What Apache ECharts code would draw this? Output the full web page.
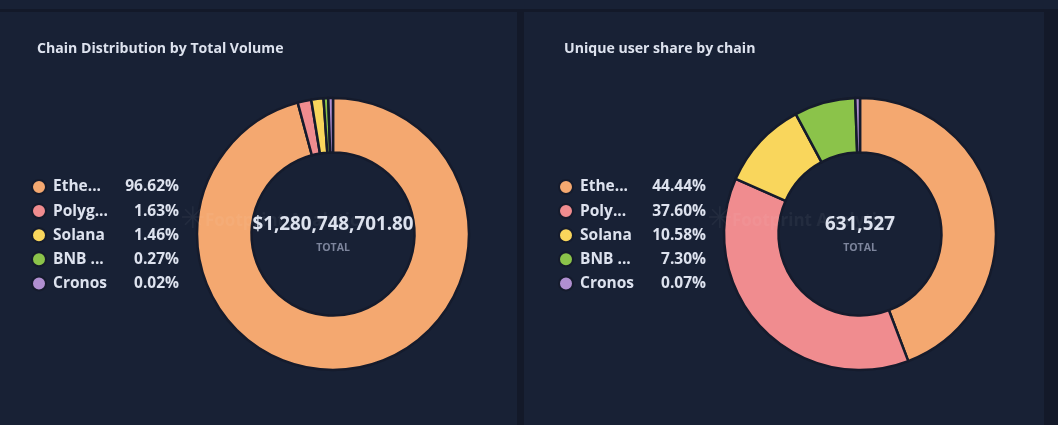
<!DOCTYPE html>
<html>
<head>
<meta charset="utf-8">
<style>
  html, body { margin: 0; padding: 0; width: 1058px; height: 425px; overflow: hidden; background: #131929; }
  .strip { position: absolute; left: 0; top: 0; width: 1058px; height: 9px; background: #182135; }
  .card { position: absolute; top: 12px; height: 413px; background: #182135; }
  #volumeCard { left: 0; width: 517px; }
  #userCard { left: 524px; width: 520px; }
</style>
<script src="https://cdn.jsdelivr.net/npm/echarts@6/dist/echarts.min.js"></script>
</head>
<body>
<div class="strip"></div>
<div class="card" id="volumeCard"></div>
<div class="card" id="userCard"></div>
<script>
var chains = ['Ethereum', 'Polygon', 'Solana', 'BNB Chain', 'Cronos'];
var chainColors = ['#f4a870', '#f08c8f', '#f9d65c', '#8bc34a', '#b08fd0'];

var volumeShort = ['Ethe...', 'Polyg...', 'Solana', 'BNB ...', 'Cronos'];
var volumeShare = [96.62, 1.63, 1.46, 0.27, 0.02];
var volumeTotal = '$1,280,748,701.80';

var userShort = ['Ethe...', 'Poly...', 'Solana', 'BNB ...', 'Cronos'];
var userShare = [44.44, 37.60, 10.58, 7.30, 0.07];
var userTotal = '631,527';

var FONT = '"Open Sans", "Noto Sans", sans-serif';

function drawChart(id, cfg) {
  var chart = echarts.init(document.getElementById(id));
  var data = chains.map(function (name, i) {
    return { name: name, value: cfg.share[i], itemStyle: { color: chainColors[i] } };
  });
  chart.setOption({
    animation: false,
    backgroundColor: 'transparent',
    title: [
      { text: cfg.title, left: cfg.titleLeft, top: 30, padding: 0,
        textStyle: { color: '#dde2ee', fontFamily: FONT, fontWeight: 'bold', fontSize: 14.1 } },
      { text: cfg.total, left: cfg.cx, top: 203, padding: 0, textAlign: 'center',
        textStyle: { color: '#dde2ee', fontFamily: FONT, fontWeight: 'bold', fontSize: 18.8 } },
      { text: 'TOTAL', left: cfg.cx, top: 231, padding: 0, textAlign: 'center',
        textStyle: { color: '#7d859c', fontFamily: FONT, fontWeight: 'bold', fontSize: 10.5 } }
    ],
    legend: {
      orient: 'vertical',
      left: cfg.legendLeft,
      top: 167,
      padding: 0,
      itemWidth: 14,
      itemHeight: 14,
      itemGap: 8.1,
      icon: 'circle',
      selectedMode: false,
      data: chains,
      formatter: function (name) {
        var i = chains.indexOf(name);
        return '{n|' + cfg.short[i] + '}{v|' + cfg.share[i].toFixed(2) + '%}';
      },
      textStyle: {
        color: '#dde2ee',
        padding: [0, 0, 0, 2],
        rich: {
          n: { width: 62, color: '#dde2ee', fontFamily: FONT, fontWeight: 'bold', fontSize: 15.5, lineHeight: 18 },
          v: { width: 64, align: 'right', color: '#dde2ee', fontFamily: FONT, fontWeight: 'bold', fontSize: 15.5, lineHeight: 18 }
        }
      }
    },
    series: [{
      type: 'pie',
      center: [cfg.cx, 222],
      radius: [81.5, 136],
      startAngle: 90,
      clockwise: true,
      minAngle: 2,
      label: { show: false },
      labelLine: { show: false },
      silent: true,
      itemStyle: { borderColor: '#151b2c', borderWidth: 2.5 },
      data: data
    }],
    graphic: [{
      type: 'text',
      z: 100,
      left: cfg.markLeft - 25,
      top: 193,
      style: { text: '\u2733', fill: 'rgba(255,255,255,0.05)', font: '30px "DejaVu Sans"' }
    }, {
      type: 'text',
      z: 100,
      left: cfg.markLeft,
      top: 201,
      style: { text: 'Footprint Analytics', fill: 'rgba(255,255,255,0.05)', font: 'bold 17px ' + FONT }
    }]
  });
}

drawChart('volumeCard', {
  title: 'Chain Distribution by Total Volume', titleLeft: 37, cx: 333, legendLeft: 31,
  short: volumeShort, share: volumeShare, total: volumeTotal, markLeft: 205
});
drawChart('userCard', {
  title: 'Unique user share by chain', titleLeft: 40, cx: 336, legendLeft: 34,
  short: userShort, share: userShare, total: userTotal, markLeft: 208
});
</script>
</body>
</html>
